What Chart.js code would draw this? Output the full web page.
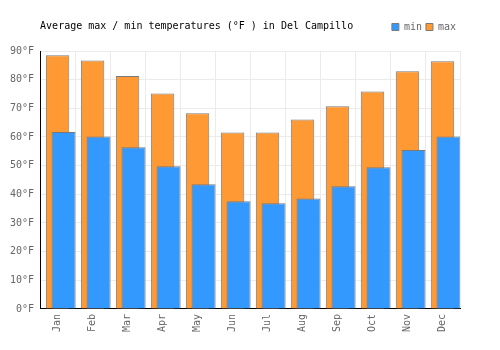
<!DOCTYPE html>
<html>
<head>
<meta charset="utf-8">
<script src="https://cdn.jsdelivr.net/npm/chart.js@4/dist/chart.umd.min.js"></script>
<style>
  html, body { margin: 0; padding: 0; background: #fff; }
  #wrap { width: 500px; height: 350px; position: relative; }
</style>
</head>
<body>
<div id="wrap"><canvas id="c" width="500" height="350"></canvas></div>
<script>
const TITLE = "Average max / min temperatures (°F ) in Del Campillo";
const MONTHS = ["Jan","Feb","Mar","Apr","May","Jun","Jul","Aug","Sep","Oct","Nov","Dec"];
const MIN_TEMPS = [61.7, 60.2, 56.4, 49.8, 43.5, 37.6, 36.9, 38.5, 42.8, 49.4, 55.5, 60.2];
const MAX_TEMPS = [88.5, 86.7, 81.3, 75.2, 68.3, 61.6, 61.6, 66.1, 70.7, 75.9, 82.9, 86.4];
const Y_TICKS = [0, 10, 20, 30, 40, 50, 60, 70, 80, 90];

const FONT = { family: '"DejaVu Sans Mono", monospace', size: 10 };

const titlePlugin = {
  id: 'sideTitle',
  afterDraw(chart) {
    const ctx = chart.ctx;
    ctx.save();
    ctx.font = '10px "DejaVu Sans Mono", monospace';
    ctx.fillStyle = '#000';
    ctx.textBaseline = 'middle';
    ctx.textAlign = 'left';
    ctx.fillText(TITLE, chart.chartArea.left, 26);
    ctx.restore();
  }
};

const legendGap = {
  id: 'legendGap',
  beforeInit(chart) {
    const fit = chart.legend.fit;
    chart.legend.fit = function () { fit.call(this); this.height += 9; };
  }
};

new Chart(document.getElementById('c'), {
  type: 'bar',
  data: {
    labels: MONTHS,
    datasets: [
      {
        label: 'min',
        data: MIN_TEMPS,
        backgroundColor: '#3399ff',
        borderColor: '#7a7a7a',
        borderWidth: 1,
        order: 0,
        stack: 'b',
        grouped: true,
        categoryPercentage: 24 / 35,
        barPercentage: 2.0
      },
      {
        label: 'max',
        data: MAX_TEMPS,
        backgroundColor: '#ff9933',
        borderColor: '#7a7a7a',
        borderWidth: 1,
        order: 1,
        stack: 'c',
        grouped: false,
        categoryPercentage: 1,
        barPercentage: 0.67
      },
      {
        label: 'spacer',
        data: [],
        order: -1,
        stack: 'a',
        grouped: true,
        categoryPercentage: 24 / 35,
        barPercentage: 2.0
      }
    ]
  },
  options: {
    responsive: false,
    animation: false,
    layout: { padding: { left: 4, right: 40, top: 18, bottom: 13 } },
    plugins: {
      title: { display: false },
      tooltip: { enabled: false },
      legend: {
        display: true,
        position: 'top',
        align: 'end',
        labels: {
          filter: (item) => item.text !== 'spacer',
          boxWidth: 7,
          boxHeight: 7,
          padding: 4,
          color: '#666',
          font: FONT
        }
      }
    },
    scales: {
      x: {
        grid: { color: '#ebebeb', drawTicks: false, offset: true },
        border: { color: '#000', width: 1 },
        ticks: { color: '#666', font: FONT, maxRotation: 90, minRotation: 90, padding: 5 }
      },
      y: {
        min: 0,
        max: 90,
        afterBuildTicks: (scale) => { scale.ticks = Y_TICKS.map(v => ({ value: v })); },
        grid: { color: '#ebebeb', drawTicks: false },
        border: { color: '#000', width: 1 },
        ticks: { color: '#666', font: FONT, padding: 6, callback: (v) => v + '°F' }
      }
    }
  },
  plugins: [titlePlugin, legendGap]
});
</script>
</body>
</html>
